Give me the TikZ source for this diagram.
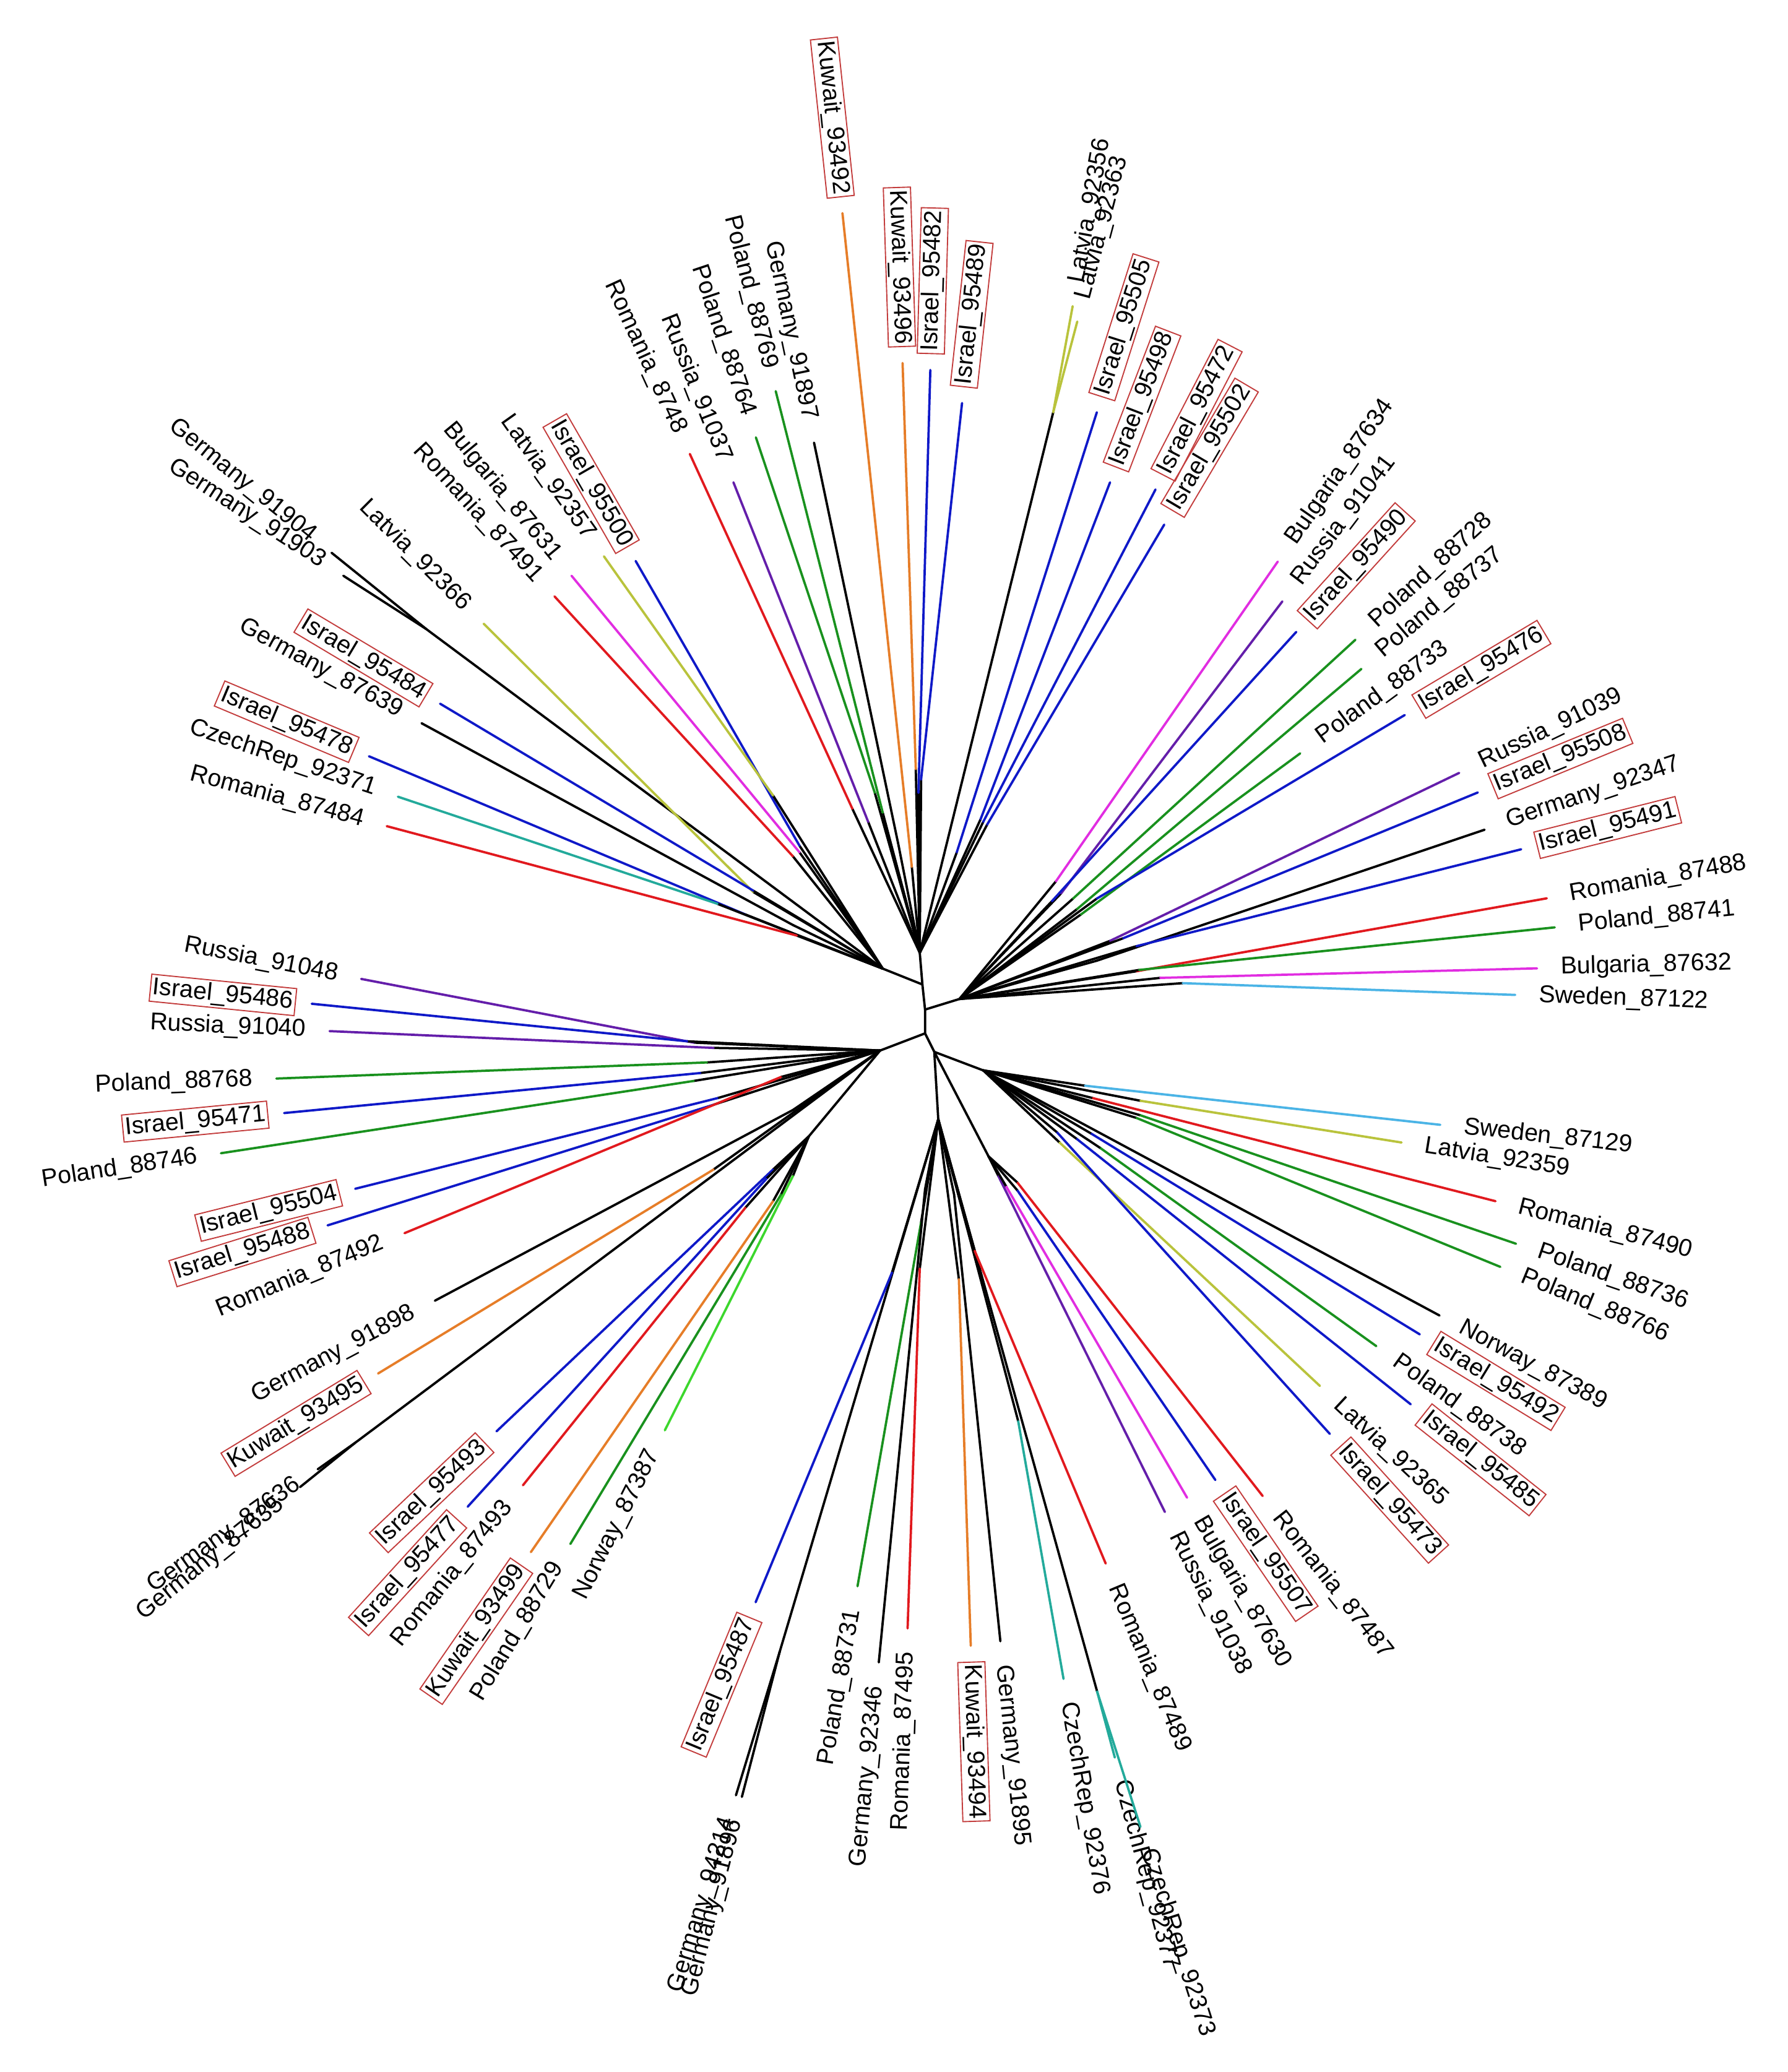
\documentclass[tikz,border=0pt]{standalone}
\usepackage{fontspec}
\newfontfamily\lblfam{Liberation Sans}
\usetikzlibrary{calc}
\definecolor{cred}{RGB}{225,25,30}
\definecolor{cpurple}{RGB}{100,30,170}
\definecolor{cblue}{RGB}{15,25,200}
\definecolor{cgreen}{RGB}{25,145,30}
\definecolor{cmagenta}{RGB}{225,45,225}
\definecolor{cyg}{RGB}{185,195,60}
\definecolor{corange}{RGB}{230,125,40}
\definecolor{cteal}{RGB}{35,170,155}
\definecolor{clblue}{RGB}{75,180,230}
\definecolor{clgreen}{RGB}{60,215,45}
\definecolor{boxred}{RGB}{195,60,60}
\newcommand\labfont{\lblfam\fontsize{10.5}{12.5}\selectfont}
\tikzset{
  branch/.style={line width=1pt, line cap=round},
  lab/.style={font=\labfont, inner sep=1.5pt},
  blab/.style={font=\labfont, inner sep=1pt, draw=boxred, line width=0.5pt},
}
% #1 name, #2 hub, #3 junction, #4 tip, #5 colour, #6 label style, #7 text, #8 gap
\newcommand\leafgen[8]{%
  \coordinate (#1j) at (#3);
  \coordinate (#1t) at (#4);
  \draw[branch] (#2) -- (#1j);
  \draw[branch,draw=#5] (#1j) -- (#1t);
  \pgfmathanglebetweenpoints{\pgfpointanchor{#1j}{center}}{\pgfpointanchor{#1t}{center}}%
  \let\leafang\pgfmathresult
  \pgfmathtruncatemacro\leafflip{(\leafang>90 && \leafang<270) ? 1 : 0}%
  \ifnum\leafflip=1
    \pgfmathsetmacro\leafrot{\leafang-180}%
    \node[#6,rotate=\leafrot,anchor=east] (#1l) at ($(#1t)!-#8!(#1j)$) {#7};%
  \else
    \node[#6,rotate=\leafang,anchor=west] (#1l) at ($(#1t)!-#8!(#1j)$) {#7};%
  \fi
}
\newcommand\nleaf[6]{\leafgen{#1}{#2}{#3}{#4}{#5}{lab}{#6}{0.30cm}}
\newcommand\bleaf[6]{\leafgen{#1}{#2}{#3}{#4}{#5}{blab}{#6}{0.24cm}}

\begin{document}
\begin{tikzpicture}[x=0.02cm,y=-0.02cm]
\useasboundingbox (0,0) rectangle (1353,1568);
\fill[white] (0,0) rectangle (1353,1568);

% internal nodes
\coordinate (hT) at (696,721);
\coordinate (hM) at (698,745);
\coordinate (hC) at (700,764);
\coordinate (hB) at (700,782);
\coordinate (hBt) at (707,796);
\coordinate (hBot) at (710,847);
\coordinate (hR) at (726,756);
\coordinate (hLT) at (668,733);
\coordinate (hL) at (666,795);
\coordinate (hL2) at (612,860);
\coordinate (hRB) at (744,810);
\coordinate (hRB3) at (748,875);
\coordinate (lat) at (797,312);
\coordinate (gm) at (322.5,476);
\coordinate (gg) at (268.8,1091.8);
\coordinate (gb) at (590,1250);
\coordinate (cz) at (830.2,1280);

\draw[branch] (hT) -- (hM) -- (hC) -- (hB) -- (hBt) -- (hBot);
\draw[branch] (hC) -- (hR);
\draw[branch] (hM) -- (hLT);
\draw[branch] (hB) -- (hL);
\draw[branch] (hL) -- (hL2);
\draw[branch] (hBt) -- (hRB);
\draw[branch] (hBt) -- (hRB3);
\draw[branch] (hT) -- (lat);
\draw[branch] (hLT) -- (gm);
\draw[branch] (hL) -- (gg);
\draw[branch] (hBot) -- (gb);
\draw[branch] (hBot) -- (cz);

% top
\nleaf{roA}{hT}{645,612}{522,343.5}{cred}{Romania\_8748}
\nleaf{ruA}{hT}{657,622}{555,365}{cpurple}{Russia\_91037}
\nleaf{poA}{hT}{662,600}{572,331}{cgreen}{Poland\_88764}
\nleaf{poB}{hT}{668,615}{587,296}{cgreen}{Poland\_88769}
\nleaf{geA}{hT}{680,640}{616,335}{black}{Germany\_91897}
\bleaf{kuA}{hT}{690,656}{637.5,161.3}{corange}{Kuwait\_93492}
\bleaf{kuB}{hT}{693,582}{683,274.7}{corange}{Kuwait\_93496}
\bleaf{isA}{hT}{695,600}{704,280}{cblue}{Israel\_95482}
\bleaf{isB}{hT}{697,590}{728,305}{cblue}{Israel\_95489}
\nleaf{laA}{lat}{lat}{811.7,231.7}{cyg}{Latvia\_92356}
\nleaf{laB}{lat}{lat}{815.2,243.3}{cyg}{Latvia\_92363}
\bleaf{isC}{hT}{724,645}{830,312}{cblue}{Israel\_95505}
\bleaf{isD}{hT}{742,620}{840,365}{cblue}{Israel\_95498}
\bleaf{isE}{hT}{744,622}{874.4,370.4}{cblue}{Israel\_95472}
\bleaf{isF}{hT}{747,624}{881,397}{cblue}{Israel\_95502}

% left-top
\bleaf{isG}{hLT}{605,640}{481,424.5}{cblue}{Israel\_95500}
\nleaf{laC}{hLT}{585,602}{457,421}{cyg}{Latvia\_92357}
\nleaf{buA}{hLT}{605,645}{432.5,435.7}{cmagenta}{Bulgaria\_87631}
\nleaf{roB}{hLT}{600,648}{419.6,451.3}{cred}{Romania\_87491}
\nleaf{laD}{hLT}{570,675}{366,472}{cyg}{Latvia\_92366}
\nleaf{geB}{gm}{gm}{250.9,418.3}{black}{Germany\_91904}
\nleaf{geC}{gm}{gm}{259.8,435.7}{black}{Germany\_91903}
\bleaf{isH}{hLT}{570,674}{333,532.5}{cblue}{Israel\_95484}
\nleaf{geD}{hLT}{600,700}{319,547.3}{black}{Germany\_87639}
\bleaf{isI}{hLT}{564,692}{279.2,572.3}{cblue}{Israel\_95478}
\nleaf{czA}{hLT}{543,684}{301.1,602.9}{cteal}{CzechRep\_92371}
\nleaf{roC}{hLT}{603,708}{292.7,625.2}{cred}{Romania\_87484}

% left
\nleaf{ruB}{hL}{525,789}{273.3,740.8}{cpurple}{Russia\_91048}
\bleaf{isJ}{hL}{520,788}{235.9,759.6}{cblue}{Israel\_95486}
\nleaf{ruC}{hL}{540,793}{249.4,780.3}{cpurple}{Russia\_91040}
\nleaf{poC}{hL}{535,804}{209.1,816.2}{cgreen}{Poland\_88768}
\bleaf{isK}{hL}{530,812}{215,842.3}{cblue}{Israel\_95471}
\nleaf{poD}{hL}{525,818}{167.2,872.7}{cgreen}{Poland\_88746}
\bleaf{isL}{hL}{543,831}{268.8,899.6}{cblue}{Israel\_95504}
\bleaf{isM}{hL}{540,836}{247.9,927.3}{cblue}{Israel\_95488}
\nleaf{roD}{hL}{591,815}{306.1,933.2}{cred}{Romania\_87492}
\nleaf{geE}{hL}{600,840}{329.1,984.3}{black}{Germany\_91898}
\bleaf{kuC}{hL}{540,885}{286.1,1039.4}{corange}{Kuwait\_93495}
\nleaf{geF}{gg}{gg}{240.4,1111.9}{black}{Germany\_87636}
\nleaf{geG}{gg}{gg}{227,1125.4}{black}{Germany\_87635}

% lower left
\bleaf{isN}{hL2}{585,885}{375.7,1083.2}{cblue}{Israel\_95493}
\bleaf{isO}{hL2}{580,892}{353.9,1140.2}{cblue}{Israel\_95477}
\nleaf{roE}{hL2}{564,914}{395.7,1124}{cred}{Romania\_87493}
\bleaf{kuD}{hL2}{585,909}{401.7,1174.6}{corange}{Kuwait\_93499}
\nleaf{poE}{hL2}{591,904}{431.6,1168.4}{cgreen}{Poland\_88729}
\nleaf{noA}{hL2}{600,890}{503.1,1082.4}{clgreen}{Norway\_87387}

% bottom
\bleaf{isP}{hBot}{675,963}{571.8,1212.5}{cblue}{Israel\_95487}
\nleaf{geH}{gb}{gb}{556.9,1358.6}{black}{Germany\_94214}
\nleaf{geI}{gb}{gb}{561.4,1359.8}{black}{Germany\_91896}
\nleaf{poF}{hBot}{697,925}{648.9,1200.4}{cgreen}{Poland\_88731}
\nleaf{geJ}{hBot}{700,900}{665,1258}{black}{Germany\_92346}
\nleaf{roF}{hBot}{696,960}{686.8,1232.3}{cred}{Romania\_87495}
\bleaf{kuE}{hBot}{725.6,968}{734.6,1245.4}{corange}{Kuwait\_93494}
\nleaf{geK}{hBot}{722,904}{757,1242}{black}{Germany\_91895}
\nleaf{czB}{hBot}{770.5,1075.5}{804.8,1270.5}{cteal}{CzechRep\_92376}
\nleaf{czC}{cz}{cz}{843.6,1330}{cteal}{CzechRep\_92377}
\nleaf{czD}{cz}{cz}{863,1382.5}{cteal}{CzechRep\_92373}
\nleaf{roG}{hBot}{737.6,946.6}{836.7,1183.2}{cred}{Romania\_87489}

% lower right
\nleaf{ruD}{hRB3}{755.5,890}{881.5,1144.2}{cpurple}{Russia\_91038}
\nleaf{buB}{hRB3}{761.5,898}{898.3,1133.4}{cmagenta}{Bulgaria\_87630}
\bleaf{isQ}{hRB3}{770,901}{919.7,1120}{cblue}{Israel\_95507}
\nleaf{roH}{hRB3}{770,895}{955.5,1132.1}{cred}{Romania\_87487}
\nleaf{laE}{hRB}{801.8,864.6}{998.8,1048.8}{cyg}{Latvia\_92365}
\bleaf{isR}{hRB}{800,857}{1006.3,1085.1}{cblue}{Israel\_95473}
\nleaf{poG}{hRB}{833,869}{1041.5,1018.7}{cgreen}{Poland\_88738}
\bleaf{isS}{hRB}{815,862}{1067.5,1062.7}{cblue}{Israel\_95485}
\bleaf{isT}{hRB}{826,858}{1074.4,1009.8}{cblue}{Israel\_95492}
\nleaf{noB}{hRB}{800,840}{1089.3,995.5}{black}{Norway\_87389}
\nleaf{poH}{hRB}{860,846}{1135.3,958.7}{cgreen}{Poland\_88766}
\nleaf{poI}{hRB}{863,844}{1147.2,941.2}{cgreen}{Poland\_88736}
\nleaf{roI}{hRB}{827,831}{1131.7,909}{cred}{Romania\_87490}
\nleaf{laF}{hRB}{863,833}{1060.6,864.6}{cyg}{Latvia\_92359}
\nleaf{swA}{hRB}{821,821.6}{1089.9,851.2}{clblue}{Sweden\_87129}

% right
\nleaf{buC}{hR}{799,667}{966.9,425}{cmagenta}{Bulgaria\_87634}
\nleaf{ruE}{hR}{803,676}{970.4,455.1}{cpurple}{Russia\_91041}
\bleaf{isU}{hR}{796,682}{980.9,478.2}{cblue}{Israel\_95490}
\nleaf{poJ}{hR}{812,680}{1025.7,484.1}{cgreen}{Poland\_88728}
\nleaf{poK}{hR}{815,688}{1030.2,506.2}{cgreen}{Poland\_88737}
\nleaf{poL}{hR}{818,692}{983.9,570.1}{cgreen}{Poland\_88733}
\bleaf{isV}{hR}{830,680}{1063,541.1}{cblue}{Israel\_95476}
\nleaf{ruF}{hR}{840,712}{1104.2,584.9}{cpurple}{Russia\_91039}
\bleaf{isW}{hR}{850,710}{1118.3,599.7}{cblue}{Israel\_95508}
\nleaf{geL}{hR}{830,727}{1123.4,627.9}{black}{Germany\_92347}
\bleaf{isX}{hR}{860,716}{1151.1,642.7}{cblue}{Israel\_95491}
\nleaf{roJ}{hR}{860,735}{1170.5,679.8}{cred}{Romania\_87488}
\nleaf{poM}{hR}{862,734}{1176.5,701.8}{cgreen}{Poland\_88741}
\nleaf{buD}{hR}{878,740}{1163.1,732.8}{cmagenta}{Bulgaria\_87632}
\nleaf{swB}{hR}{895,744}{1146.6,752.9}{clblue}{Sweden\_87122}
\end{tikzpicture}
\end{document}
